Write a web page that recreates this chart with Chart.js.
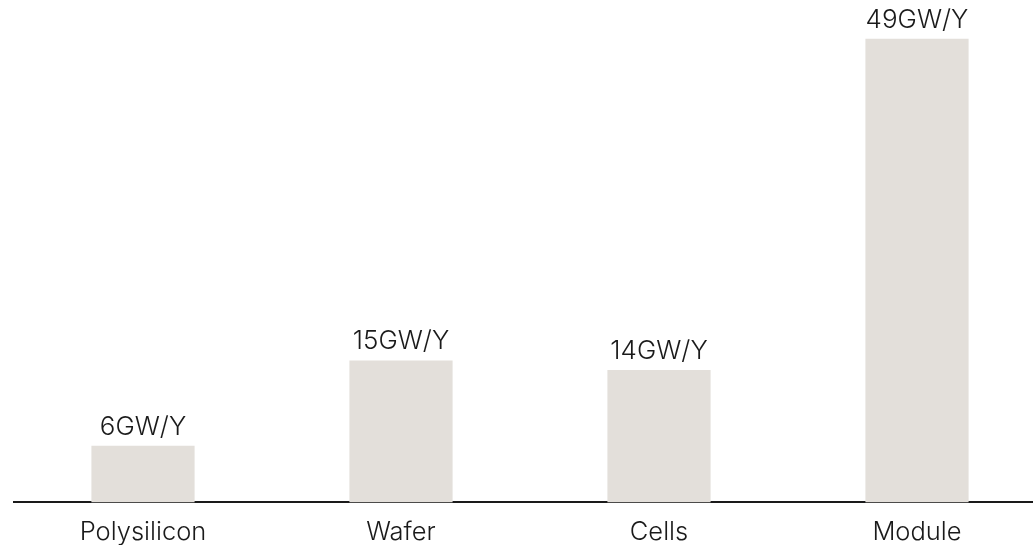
<!DOCTYPE html>
<html>
<head>
<meta charset="utf-8">
<script src="https://cdn.jsdelivr.net/npm/chart.js@4/dist/chart.umd.min.js"></script>
<style>
  html, body { margin: 0; padding: 0; background: #fff; overflow: hidden; }
  #wrap { position: relative; width: 1046px; height: 545px; }
</style>
</head>
<body>
<div id="wrap"><canvas id="myChart"></canvas></div>
<script>
const stages = ['Polysilicon', 'Wafer', 'Cells', 'Module'];
const capacity = [6, 15, 14, 49];
const capacityLabels = ['6GW/Y', '15GW/Y', '14GW/Y', '49GW/Y'];

const fontFamily = 'Inter, "Liberation Sans", sans-serif';

// writes the GW/Y figure above each bar
const valueLabels = {
  id: 'valueLabels',
  afterDatasetsDraw(chart) {
    const ctx = chart.ctx;
    const meta = chart.getDatasetMeta(0);
    ctx.save();
    ctx.font = '300 26px ' + fontFamily;
    ctx.fillStyle = '#1a1a1a';
    ctx.textAlign = 'center';
    ctx.textBaseline = 'alphabetic';
    meta.data.forEach((bar, i) => {
      ctx.fillText(capacityLabels[i], bar.x, bar.y - 11);
    });
    ctx.restore();
  }
};

const data = {
  labels: stages,
  datasets: [{
    data: capacity,
    backgroundColor: '#e3dfda',
    barPercentage: 0.4,
    categoryPercentage: 1
  }]
};

const config = {
  type: 'bar',
  data: data,
  options: {
    responsive: true,
    maintainAspectRatio: false,
    animation: false,
    layout: { padding: { left: 14, right: 0, top: 0, bottom: -18 } },
    plugins: {
      legend: { display: false },
      tooltip: { enabled: false }
    },
    scales: {
      x: {
        grid: { display: false, drawTicks: false },
        border: { display: true, color: '#1a1a1a', width: 2 },
        ticks: {
          color: '#1a1a1a',
          padding: 15,
          font: { family: fontFamily, size: 25.5, weight: 300 }
        }
      },
      y: {
        display: false,
        min: 0,
        max: 53.1
      }
    }
  },
  plugins: [valueLabels]
};

const myChart = new Chart(
  document.getElementById('myChart'),
  config
);
</script>
</body>
</html>
